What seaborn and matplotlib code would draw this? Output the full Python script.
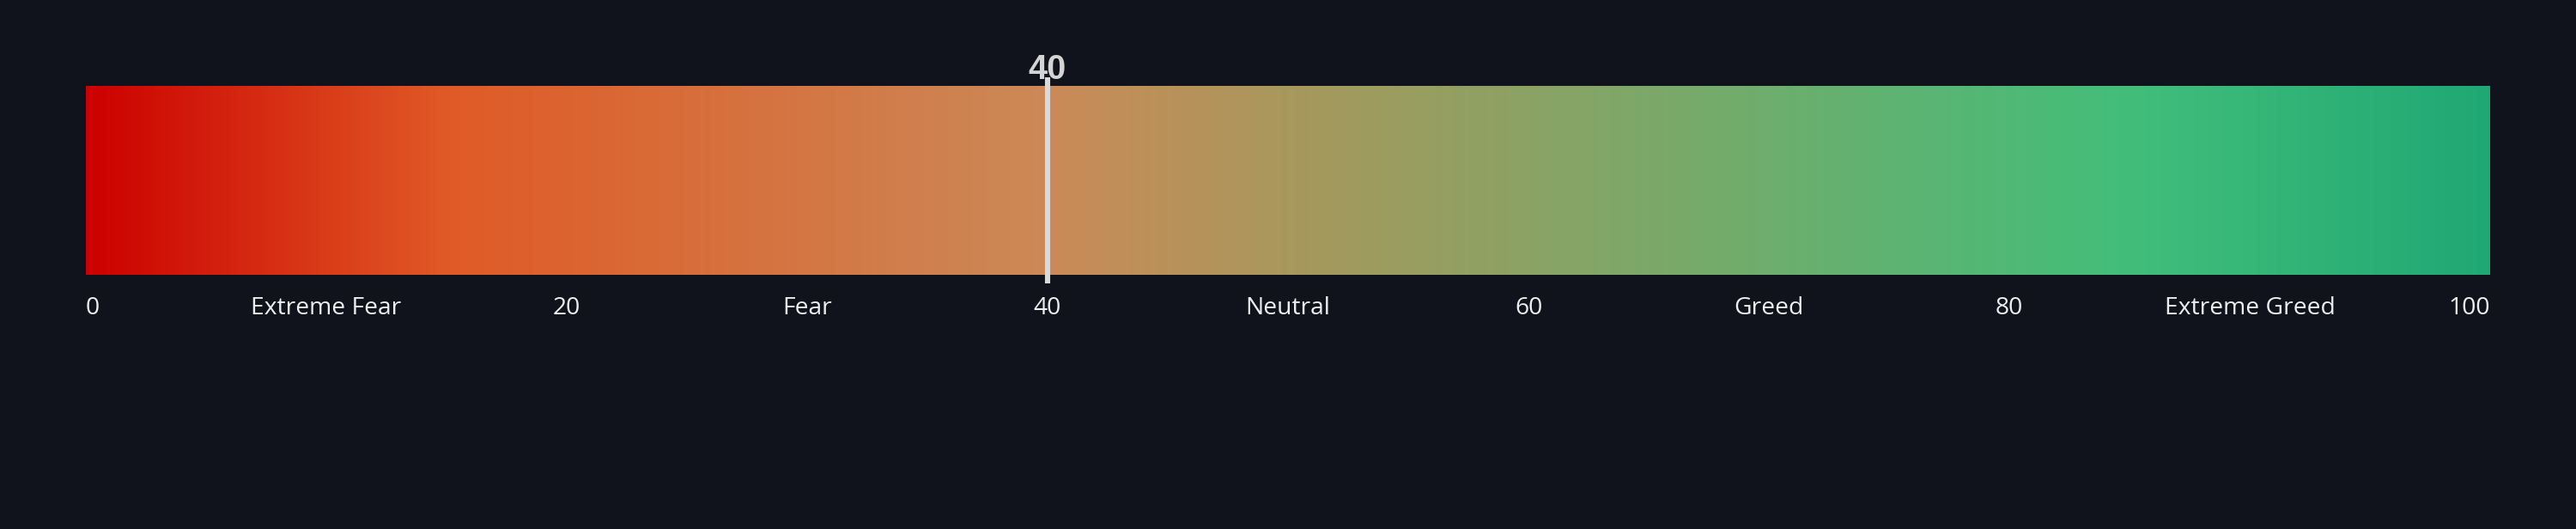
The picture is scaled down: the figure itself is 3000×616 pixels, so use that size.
import numpy as np
import matplotlib
matplotlib.use("Agg")
import matplotlib.pyplot as plt
from matplotlib.colors import LinearSegmentedColormap
import seaborn as sns

# ---- data ----
current_value = 40
tick_positions = [0, 10, 20, 30, 40, 50, 60, 70, 80, 90, 100]
tick_labels = ["0", "Extreme Fear", "20", "Fear", "40", "Neutral", "60", "Greed", "80", "Extreme Greed", "100"]
gradient_stops = [0.0, 0.15, 0.40, 0.50, 0.85, 1.0]
gradient_colors = ["#cc0000", "#e05a26", "#cb8a58", "#a8985c", "#42be7a", "#20a874"]

BG = "#10131b"

sns.set_theme(style="dark", rc={"axes.facecolor": BG, "figure.facecolor": BG})
plt.rcParams["font.family"] = ["Open Sans", "DejaVu Sans"]

fig = plt.figure(figsize=(30, 6.16), dpi=100)
ax = fig.add_axes([100 / 3000, 296 / 616, 2800 / 3000, 220 / 616])

cmap = LinearSegmentedColormap.from_list("fg", list(zip(gradient_stops, gradient_colors)), N=1024)
grad = np.linspace(0, 1, 1400).reshape(1, -1)
ax.imshow(grad, cmap=cmap, aspect="auto", extent=[0, 100, 0, 1], interpolation="bilinear")

ax.set_xlim(0, 100)
ax.set_ylim(0, 1)

# marker line
sns.lineplot(x=[current_value, current_value], y=[-0.045, 1.045], ax=ax,
             color="#d9d9d9", linewidth=4.4, estimator=None, sort=False, clip_on=False,
             solid_capstyle="butt")

ax.text(current_value, 1.038, str(current_value), ha="center", va="baseline",
        fontsize=28.5, fontweight="bold", color="#d4d4d4",
        family=["Liberation Sans", "DejaVu Sans"], clip_on=False)

ax.set_yticks([])
ax.set_xticks(tick_positions)
ax.set_xticklabels(tick_labels, fontsize=20.3, color="#eeeeee")
ax.tick_params(axis="x", length=0, pad=18)
labels = ax.get_xticklabels()
labels[0].set_horizontalalignment("left")
labels[-1].set_horizontalalignment("right")

for s in ax.spines.values():
    s.set_visible(False)
ax.grid(False)

fig.savefig("out.png", dpi=100, facecolor=BG)
